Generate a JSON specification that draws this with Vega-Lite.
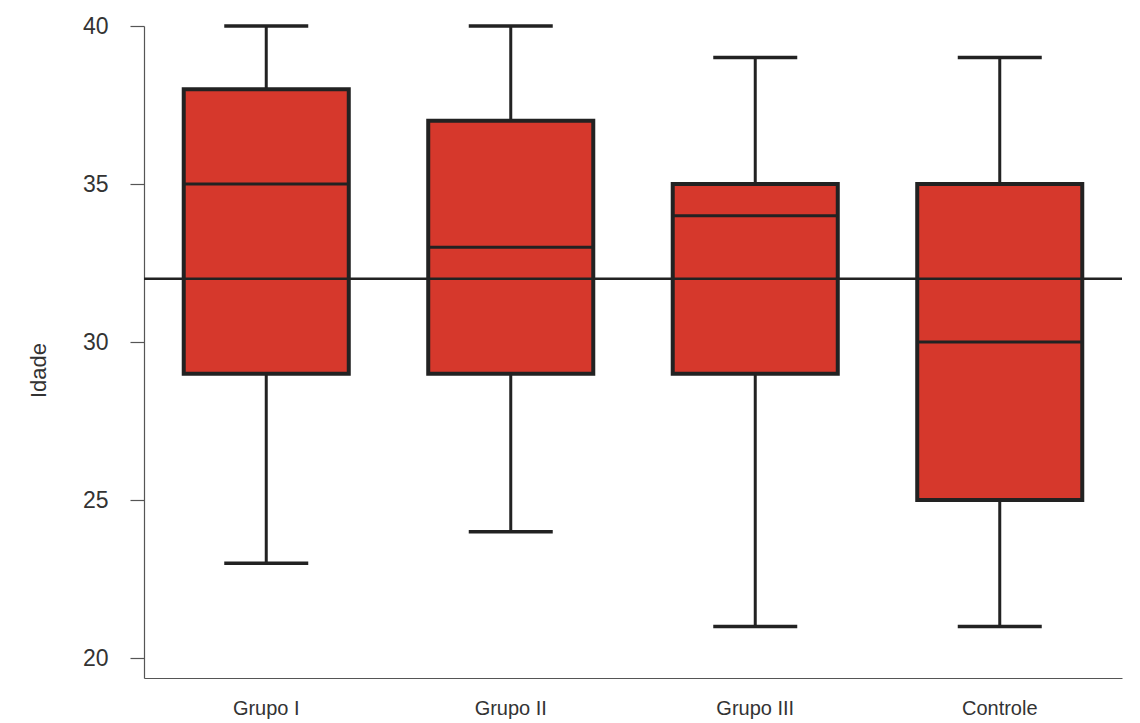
{
  "$schema": "https://vega.github.io/schema/vega-lite/v6.json",
  "autosize": {"type": "none"},
  "width": 978,
  "height": 652,
  "padding": {"left": 144, "top": 26, "right": 18, "bottom": 45},
  "background": "white",
  "config": {
    "view": {"stroke": null},
    "font": "Liberation Sans",
    "axis": {"grid": false, "labelFont": "Liberation Sans", "titleFont": "Liberation Sans", "labelColor": "#333333", "titleColor": "#333333", "titleFontWeight": "normal", "domainColor": "#555555", "tickColor": "#555555", "domainWidth": 1.2, "tickWidth": 1.2},
    "axisX": {"labelFontSize": 20, "labelPadding": 20, "ticks": false, "labelAngle": 0},
    "axisY": {"labelFontSize": 23, "labelPadding": 22, "tickSize": 14, "titleFontSize": 22, "titlePadding": 32, "titleY": 344}
  },
  "data": {
    "values": [
      {"grupo": "Grupo I", "min": 23, "q1": 29, "median": 35, "q3": 38, "max": 40},
      {"grupo": "Grupo II", "min": 24, "q1": 29, "median": 33, "q3": 37, "max": 40},
      {"grupo": "Grupo III", "min": 21, "q1": 29, "median": 34, "q3": 35, "max": 39},
      {"grupo": "Controle", "min": 21, "q1": 25, "median": 30, "q3": 35, "max": 39}
    ]
  },
  "encoding": {
    "x": {
      "field": "grupo", "type": "nominal", "sort": null,
      "scale": {"paddingInner": 0, "paddingOuter": 0},
      "axis": {"title": null}
    }
  },
  "layer": [
    {
      "mark": {"type": "rule", "color": "#222222", "strokeWidth": 3},
      "encoding": {
        "y": {"field": "min", "type": "quantitative", "scale": {"domain": [19.37, 40], "nice": false, "zero": false},
          "axis": {"title": "Idade", "values": [20, 25, 30, 35, 40]}},
        "y2": {"field": "max"}
      }
    },
    {
      "mark": {"type": "bar", "color": "#d6382c", "stroke": "#222222", "strokeWidth": 4, "width": {"band": 0.675}},
      "encoding": {
        "y": {"field": "q1", "type": "quantitative"},
        "y2": {"field": "q3"}
      }
    },
    {
      "mark": {"type": "tick", "color": "#222222", "size": 165, "thickness": 3, "opacity": 1},
      "encoding": {"y": {"field": "median", "type": "quantitative"}}
    },
    {
      "mark": {"type": "tick", "color": "#222222", "size": 84, "thickness": 3.5, "opacity": 1},
      "encoding": {"y": {"field": "min", "type": "quantitative"}}
    },
    {
      "mark": {"type": "tick", "color": "#222222", "size": 84, "thickness": 3.5, "opacity": 1},
      "encoding": {"y": {"field": "max", "type": "quantitative"}}
    },
    {
      "data": {"values": [{"ref": 32}]},
      "mark": {"type": "rule", "color": "#222222", "strokeWidth": 2.5},
      "encoding": {"y": {"field": "ref", "type": "quantitative"}, "x": null}
    }
  ]
}
